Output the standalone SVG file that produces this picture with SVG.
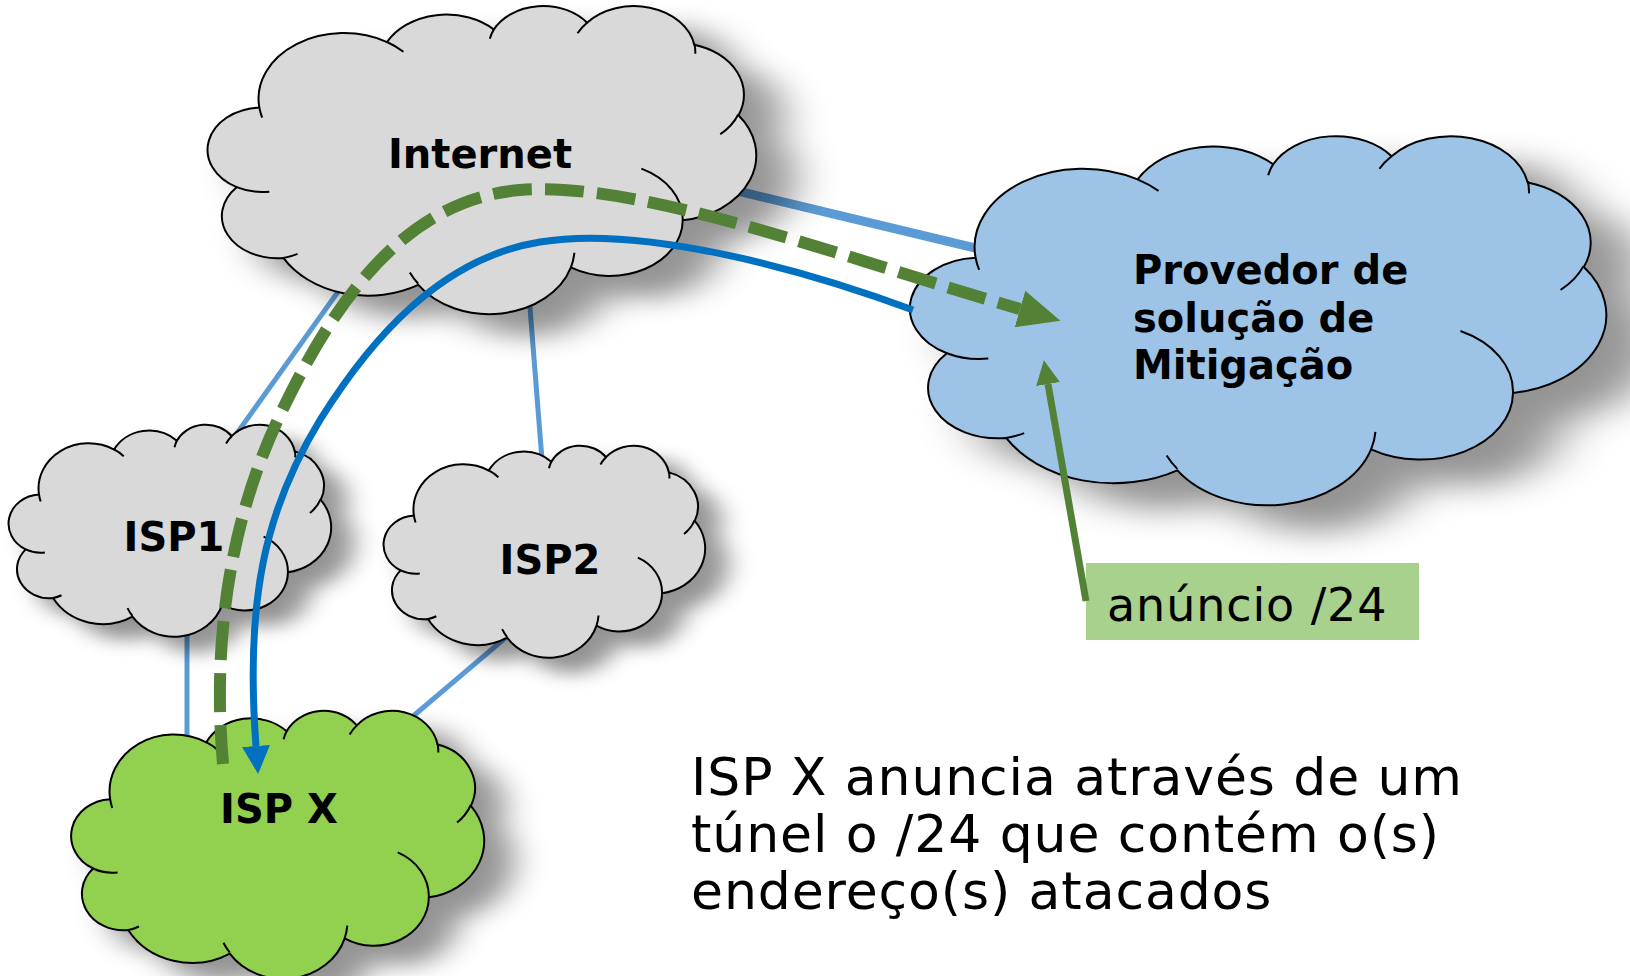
<svg xmlns="http://www.w3.org/2000/svg" xmlns:xlink="http://www.w3.org/1999/xlink" width="1630" height="976" viewBox="0 0 1630 976">
<style>
.cl{stroke:#000;stroke-width:2;stroke-linejoin:round}
.deco{fill:none;stroke:#000;stroke-width:2}
.gray{fill:#D9D9D9}
.blue{fill:#9DC3E6}
.green{fill:#92D050}
.lbl{font-family:"DejaVu Sans","Verdana",sans-serif;font-weight:bold;font-size:40px;fill:#000}
.txt{font-family:"DejaVu Sans","Verdana",sans-serif;fill:#000}
.link{stroke:#5B9BD5;fill:none}
</style>
<defs>
<filter id="sh" x="-10%" y="-10%" width="130%" height="130%">
<feGaussianBlur in="SourceAlpha" stdDeviation="4"/>
<feOffset dx="7" dy="7" result="b"/>
<feFlood flood-color="#000" flood-opacity="0.42"/>
<feComposite in2="b" operator="in"/>
<feMerge><feMergeNode/><feMergeNode in="SourceGraphic"/></feMerge>
</filter>
<path id="cloud" vector-effect="non-scaling-stroke" d="M9.03,33.26 A15.63,21.27 0 0 1 32.42,12.04 A12.34,16.82 0 0 1 51.98,7.94 A10.10,13.76 0 0 1 69.06,5.74 A11.24,15.27 0 0 1 88.70,12.90 A12.34,16.84 0 0 1 96.80,35.78 A15.68,21.34 0 0 1 86.58,69.91 A13.39,18.21 0 0 1 66.10,85.21 A15.63,21.33 0 0 1 38.15,90.89 A17.87,24.41 0 0 1 13.44,82.11 A10.09,13.70 0 0 1 4.89,59.15 A10.06,13.76 0 0 1 9.03,33.26 Z"/>
<path id="cdeco" vector-effect="non-scaling-stroke" d="M10.86,60.60 A10.06,13.76 0 0 1 4.89,59.15 M16.04,80.78 A10.09,13.70 0 0 1 13.44,82.11 M38.14,90.49 A15.63,21.33 0 0 1 36.60,86.86 M66.73,80.44 A15.63,21.33 0 0 1 66.10,85.21 M79.00,53.13 A13.39,18.21 0 0 1 86.58,69.91 M96.75,35.54 A12.34,16.84 0 0 1 93.45,41.98 M88.71,12.56 A11.24,15.27 0 0 1 88.88,15.83 M67.31,9.15 A11.24,15.27 0 0 1 69.06,5.74 M51.25,10.93 A10.10,13.76 0 0 1 51.98,7.94 M32.41,12.02 A15.63,21.27 0 0 1 35.43,15.16 M9.55,36.55 A15.63,21.27 0 0 1 9.03,33.26"/>
<marker id="ahGreen" markerUnits="userSpaceOnUse" markerWidth="44" markerHeight="42" refX="0" refY="21" orient="auto" viewBox="0 0 44 42">
<path d="M0,2 L42,21 L0,40 Z" fill="#538135"/>
</marker>
<marker id="ahGreenS" markerUnits="userSpaceOnUse" markerWidth="26" markerHeight="26" refX="0" refY="13" orient="auto" viewBox="0 0 26 26">
<path d="M0,1 L24,13 L0,25 Z" fill="#538135"/>
</marker>
<marker id="ahBlue" markerUnits="userSpaceOnUse" markerWidth="30" markerHeight="30" refX="0" refY="15" orient="auto" viewBox="0 0 30 30">
<path d="M0,1 L28,15 L0,29 Z" fill="#0070C0"/>
</marker>
</defs>

<g id="links">
<line class="link" x1="700" y1="182" x2="1000" y2="254" stroke-width="9"/>
<line class="link" x1="345" y1="282" x2="235" y2="436" stroke-width="5"/>
<line class="link" x1="529" y1="295" x2="542" y2="460" stroke-width="5"/>
<line class="link" x1="187" y1="630" x2="187" y2="740" stroke-width="5"/>
<line class="link" x1="510" y1="634" x2="405" y2="723" stroke-width="5"/>
</g>

<g id="node-internet">
<use xlink:href="#cloud" class="cl gray" filter="url(#sh)" transform="translate(210,5) scale(5.46,3.08)"/>
<use xlink:href="#cdeco" class="deco" transform="translate(210,5) scale(5.46,3.08)"/>
<text class="lbl" x="480" y="168" text-anchor="middle">Internet</text>
</g>

<g id="node-provedor">
<use xlink:href="#cloud" class="cl blue" filter="url(#sh)" transform="translate(913,135) scale(6.93,3.69)"/>
<use xlink:href="#cdeco" class="deco" transform="translate(913,135) scale(6.93,3.69)"/>
<text class="lbl" x="1133" y="284">Provedor de</text>
<text class="lbl" x="1133" y="332">solução de</text>
<text class="lbl" x="1133" y="379">Mitigação</text>
</g>

<g id="node-isp1">
<use xlink:href="#cloud" class="cl gray" filter="url(#sh)" transform="translate(10,424) scale(3.21,2.12)"/>
<use xlink:href="#cdeco" class="deco" transform="translate(10,424) scale(3.21,2.12)"/>
<text class="lbl" x="174" y="551" text-anchor="middle">ISP1</text>
</g>

<g id="node-isp2">
<use xlink:href="#cloud" class="cl gray" filter="url(#sh)" transform="translate(385,445) scale(3.20,2.12)"/>
<use xlink:href="#cdeco" class="deco" transform="translate(385,445) scale(3.20,2.12)"/>
<text class="lbl" x="550" y="574" text-anchor="middle">ISP2</text>
</g>

<g id="node-ispx">
<use xlink:href="#cloud" class="cl green" filter="url(#sh)" transform="translate(73,710) scale(4.11,2.68)"/>
<use xlink:href="#cdeco" class="deco" transform="translate(73,710) scale(4.11,2.68)"/>
<text class="lbl" x="279" y="823" text-anchor="middle">ISP X</text>
</g>

<g id="node-anuncio">
<rect x="1086" y="563" width="333" height="77" fill="#A9D18E"/>
<text class="txt" x="1107" y="621" font-size="46" letter-spacing="0.9">anúncio /24</text>
</g>

<g id="caption">
<text class="txt" font-size="52" letter-spacing="0.9">
<tspan x="691" y="795">ISP X anuncia através de um</tspan>
<tspan x="691" y="852">túnel o /24 que contém o(s)</tspan>
<tspan x="691" y="909">endereço(s) atacados</tspan>
</text>
</g>

<g id="connectors">
<path d="M913,310 C800,268 640,225 540,242 C440,258 370,340 320,420 C265,510 245,600 256,746" fill="none" stroke="#0070C0" stroke-width="7" marker-end="url(#ahBlue)"/>
<path d="M223,764 C212,640 230,520 280,415 C330,310 400,200 520,190 C640,180 850,260 1020,309" fill="none" stroke="#538135" stroke-width="12" stroke-dasharray="39 13" marker-end="url(#ahGreen)"/>
<path d="M1086,601 L1048,384" fill="none" stroke="#538135" stroke-width="7" marker-end="url(#ahGreenS)"/>
</g>
</svg>
